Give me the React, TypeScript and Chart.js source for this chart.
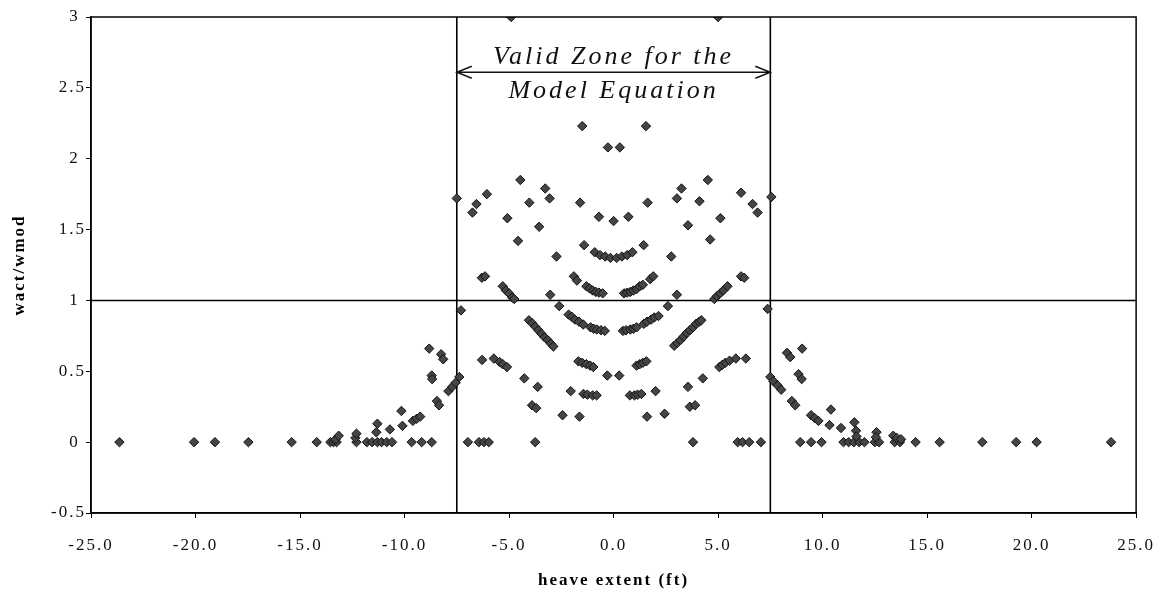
import { useEffect, useRef } from "react";
import { Chart, registerables } from "chart.js";

Chart.register(...registerables);

// ---- data ----
const xTickValues = [-25, -20, -15, -10, -5, 0, 5, 10, 15, 20, 25];
const xTickLabels = ["-25.0", "-20.0", "-15.0", "-10.0", "-5.0", "0.0", "5.0", "10.0", "15.0", "20.0", "25.0"];
const yTickValues = [-0.5, 0, 0.5, 1, 1.5, 2, 2.5, 3];
const yTickLabels = ["-0.5", "0", "0.5", "1", "1.5", "2", "2.5", "3"];

const validZone = [-7.5, 7.5];
const unityRatio = 1;

// points lying on wact/wmod = 0
const zeroRowX = [
  -23.64, -20.07, -19.07, -17.47, -15.4, -14.2, -13.55, -13.4, -13.25, -12.3, -11.8, -11.55, -11.3, -11.1,
  -10.85, -10.6, -9.66, -9.18, -8.7, -6.97, -6.44, -6.2, -5.97, -3.75, 3.8, 5.94, 6.17, 6.49, 7.05, 8.93,
  9.45, 9.95, 11.0, 11.25, 11.5, 11.75, 12.0, 12.5, 12.7, 13.45, 13.7, 14.45, 15.6, 17.64, 19.26, 20.24, 23.8,
];

const tailLeft = [
  [-13.3, 0.02], [-13.15, 0.045], [-12.35, 0.03], [-12.3, 0.06], [-11.35, 0.07], [-11.3, 0.13],
  [-10.7, 0.09], [-10.15, 0.22], [-10.1, 0.115], [-9.6, 0.15], [-9.42, 0.165], [-9.25, 0.18],
  [-8.82, 0.66], [-8.7, 0.47], [-8.68, 0.445], [-8.45, 0.29], [-8.35, 0.26], [-8.25, 0.62],
  [-8.15, 0.585], [-7.9, 0.36], [-7.72, 0.39], [-7.55, 0.42], [-7.38, 0.46],
];

const tailRight = [
  [7.5, 0.46], [7.65, 0.43], [7.85, 0.4], [8.02, 0.37], [8.3, 0.63], [8.45, 0.6], [9.02, 0.66],
  [8.85, 0.48], [9.0, 0.445], [8.53, 0.29], [8.69, 0.26], [9.45, 0.19], [9.62, 0.17], [9.8, 0.15],
  [10.4, 0.23], [10.33, 0.12], [10.88, 0.1], [11.52, 0.14], [11.6, 0.08], [11.62, 0.04], [12.58, 0.07],
  [12.55, 0.035], [13.38, 0.045], [13.55, 0.03], [13.75, 0.02],
];

const validUpper = [
  [-4.9, 3.0], [5.0, 3.0],
  [-1.5, 2.23], [1.55, 2.23],
  [-0.27, 2.08], [0.3, 2.08],
  [-7.5, 1.72], [7.55, 1.73],
  [-6.06, 1.75], [-6.56, 1.68], [-6.75, 1.62], [6.1, 1.76], [6.65, 1.68], [6.89, 1.62],
  [-4.46, 1.85], [4.51, 1.85],
  [-3.27, 1.79], [-3.06, 1.72], [3.25, 1.79], [3.03, 1.72],
  [-4.03, 1.69], [4.11, 1.7],
  [-1.6, 1.69], [1.63, 1.69],
  [-5.08, 1.58], [5.11, 1.58],
  [-3.56, 1.52], [3.56, 1.53],
  [-4.57, 1.42], [4.62, 1.43],
  [-0.7, 1.59], [0.0, 1.56], [0.71, 1.59],
  [-1.41, 1.39], [1.44, 1.39],
  [-2.73, 1.31], [2.76, 1.31],
  [-0.9, 1.34], [-0.65, 1.32], [-0.4, 1.31], [-0.15, 1.3], [0.15, 1.3], [0.4, 1.31], [0.65, 1.32], [0.9, 1.34],
];

const validMiddle = [
  [-6.3, 1.16], [-6.15, 1.17], [6.1, 1.17], [6.25, 1.16],
  [-5.3, 1.1], [-5.15, 1.07], [-5.0, 1.05], [-4.85, 1.02], [-4.75, 1.01],
  [4.82, 1.01], [4.95, 1.03], [5.1, 1.05], [5.25, 1.07], [5.45, 1.1],
  [-3.03, 1.04], [3.03, 1.04],
  [-1.9, 1.17], [-1.75, 1.14], [-1.3, 1.1], [-1.15, 1.085], [-1.0, 1.07], [-0.85, 1.06], [-0.7, 1.055], [-0.52, 1.05],
  [0.5, 1.05], [0.65, 1.055], [0.8, 1.06], [0.95, 1.07], [1.1, 1.08], [1.25, 1.1], [1.4, 1.11], [1.75, 1.15], [1.9, 1.17],
  [-7.3, 0.93], [7.37, 0.94],
  [-2.6, 0.96], [2.6, 0.96],
  [-4.05, 0.86], [-3.9, 0.84], [-3.75, 0.815], [-3.6, 0.79], [-3.45, 0.765], [-3.3, 0.74], [-3.15, 0.72], [-3.0, 0.695], [-2.88, 0.675],
  [2.9, 0.68], [3.05, 0.7], [3.2, 0.72], [3.35, 0.745], [3.5, 0.77], [3.65, 0.79], [3.8, 0.81], [3.95, 0.835], [4.1, 0.85], [4.2, 0.86],
  [-2.15, 0.9], [-2.0, 0.885], [-1.85, 0.865], [-1.65, 0.85], [-1.45, 0.83], [-1.1, 0.81], [-0.95, 0.8], [-0.8, 0.795], [-0.6, 0.79], [-0.42, 0.785],
  [0.45, 0.785], [0.6, 0.79], [0.8, 0.795], [0.95, 0.8], [1.1, 0.81], [1.45, 0.835], [1.6, 0.85], [1.8, 0.865], [1.95, 0.88], [2.15, 0.89],
];

const validLower = [
  [-6.29, 0.58], [-5.73, 0.59], [-5.45, 0.565], [-5.3, 0.55], [-5.1, 0.53],
  [5.06, 0.53], [5.2, 0.545], [5.35, 0.56], [5.55, 0.575], [5.85, 0.59], [6.33, 0.59],
  [-4.27, 0.45], [4.27, 0.45],
  [-3.63, 0.39], [3.56, 0.39],
  [-3.9, 0.26], [-3.7, 0.24], [3.65, 0.25], [3.9, 0.26],
  [-1.68, 0.57], [-1.5, 0.56], [-1.3, 0.55], [-1.12, 0.54], [-0.97, 0.53],
  [1.1, 0.54], [1.25, 0.55], [1.4, 0.56], [1.57, 0.57],
  [-0.3, 0.47], [0.27, 0.47],
  [-2.05, 0.36], [2.01, 0.36],
  [-1.44, 0.34], [-1.25, 0.335], [-1.0, 0.33], [-0.81, 0.33],
  [0.78, 0.33], [1.0, 0.33], [1.15, 0.335], [1.33, 0.34],
  [-2.44, 0.19], [-1.63, 0.18], [1.6, 0.18], [2.44, 0.2],
];

// annotation (hand-written note on the original)
const noteLines = ["Valid Zone for the", "Model Equation"];
const noteArrowY = 2.61;
const noteLineY = [2.72, 2.48];

const SERIF = "'Liberation Serif', 'Times New Roman', serif";

export default function App() {
  const canvasRef = useRef<HTMLCanvasElement | null>(null);

  useEffect(() => {
    const canvas = canvasRef.current;
    if (!canvas) return;

    const points = [
      ...zeroRowX.map((x) => ({ x, y: 0 })),
      ...[...tailLeft, ...tailRight, ...validUpper, ...validMiddle, ...validLower].map(([x, y]) => ({ x, y })),
    ];

    const lineDs = (data: { x: number; y: number }[]) => ({
      data,
      showLine: true,
      borderColor: "#000",
      borderWidth: 1.6,
      pointRadius: 0,
      fill: false,
      order: 2,
    });

    const spacingPlugin = {
      id: "spacing",
      beforeDraw(chart: any) {
        chart.ctx.letterSpacing = "2px";
      },
      afterDraw(chart: any) {
        chart.ctx.letterSpacing = "0px";
      },
    };

    const framePlugin = {
      id: "frame",
      afterDatasetsDraw(chart: any) {
        const { ctx, chartArea } = chart;
        ctx.save();
        ctx.strokeStyle = "#000";
        ctx.lineWidth = 1.5;
        ctx.strokeRect(chartArea.left, chartArea.top, chartArea.right - chartArea.left, chartArea.bottom - chartArea.top);
        ctx.restore();
      },
    };

    const notePlugin = {
      id: "note",
      afterDraw(chart: any) {
        const { ctx } = chart;
        const xs = chart.scales.x;
        const ys = chart.scales.y;
        const x0 = xs.getPixelForValue(validZone[0]);
        const x1 = xs.getPixelForValue(validZone[1]);
        const ay = ys.getPixelForValue(noteArrowY);
        const cx = xs.getPixelForValue(0);
        ctx.save();
        ctx.strokeStyle = "#111";
        ctx.lineWidth = 1.4;
        ctx.beginPath();
        ctx.moveTo(x0, ay);
        ctx.lineTo(x1, ay);
        ctx.moveTo(x0 + 15, ay - 6);
        ctx.lineTo(x0, ay);
        ctx.lineTo(x0 + 15, ay + 6);
        ctx.moveTo(x1 - 15, ay - 6);
        ctx.lineTo(x1, ay);
        ctx.lineTo(x1 - 15, ay + 6);
        ctx.stroke();
        ctx.fillStyle = "#111";
        ctx.font = `italic 26px ${SERIF}`;
        ctx.letterSpacing = "3px";
        ctx.textAlign = "center";
        ctx.textBaseline = "middle";
        noteLines.forEach((t, i) => {
          ctx.fillText(t, cx, ys.getPixelForValue(noteLineY[i]));
        });
        ctx.restore();
      },
    };

    const chart = new Chart(canvas, {
      type: "scatter",
      data: {
        datasets: [
          {
            data: points,
            pointStyle: "rectRot",
            pointRadius: 4.7,
            backgroundColor: "#454545",
            borderColor: "#111",
            borderWidth: 1,
            order: 1,
          } as any,
          lineDs([{ x: validZone[0], y: -0.5 }, { x: validZone[0], y: 3 }]),
          lineDs([{ x: validZone[1], y: -0.5 }, { x: validZone[1], y: 3 }]),
          lineDs([{ x: -25, y: unityRatio }, { x: 25, y: unityRatio }]),
        ],
      },
      options: {
        responsive: false,
        animation: false,
        layout: { padding: { left: 0, right: 28, top: 17, bottom: 0 } },
        plugins: { legend: { display: false }, tooltip: { enabled: false } },
        scales: {
          x: {
            type: "linear",
            min: -25,
            max: 25,
            afterFit: (s: any) => {
              s.height = 81;
            },
            afterBuildTicks: (s: any) => {
              s.ticks = xTickValues.map((v) => ({ value: v }));
            },
            ticks: {
              autoSkip: false,
              maxRotation: 0,
              padding: 17,
              color: "#111",
              font: { family: SERIF, size: 17 },
              callback: (v: any) => {
                const i = xTickValues.indexOf(Number(v));
                return i >= 0 ? xTickLabels[i] : "";
              },
            },
            grid: { drawOnChartArea: false, drawTicks: true, tickLength: 5, color: "#000", lineWidth: 1 },
            border: { display: true, color: "#000", width: 1.5 },
            title: {
              display: true,
              text: "heave extent (ft)",
              color: "#000",
              font: { family: SERIF, size: 17, weight: "bold" },
              padding: { top: 0, bottom: 3 },
            },
          },
          y: {
            type: "linear",
            min: -0.5,
            max: 3,
            afterFit: (s: any) => {
              s.width = 91;
            },
            afterBuildTicks: (s: any) => {
              s.ticks = yTickValues.map((v) => ({ value: v }));
            },
            ticks: {
              autoSkip: false,
              padding: 0,
              color: "#111",
              font: { family: SERIF, size: 17 },
              callback: (v: any) => {
                const i = yTickValues.indexOf(Number(v));
                if (i < 0) return "";
                const t = yTickLabels[i];
                return t.includes(".") ? t : t + " ";
              },
            },
            grid: { drawOnChartArea: false, drawTicks: true, tickLength: 5, color: "#000", lineWidth: 1 },
            border: { display: true, color: "#000", width: 1.5 },
            title: {
              display: true,
              text: "wact/wmod",
              color: "#000",
              font: { family: SERIF, size: 17, weight: "bold" },
              padding: { top: 9, bottom: 0 },
            },
          },
        },
      },
      plugins: [spacingPlugin, framePlugin, notePlugin],
    } as any);

    return () => {
      chart.destroy();
    };
  }, []);

  return (
    <div style={{ position: "absolute", left: 0, top: 0, width: 1168, height: 594, background: "#fff" }}>
      <canvas ref={canvasRef} width={1168} height={594} style={{ display: "block" }} />
    </div>
  );
}
